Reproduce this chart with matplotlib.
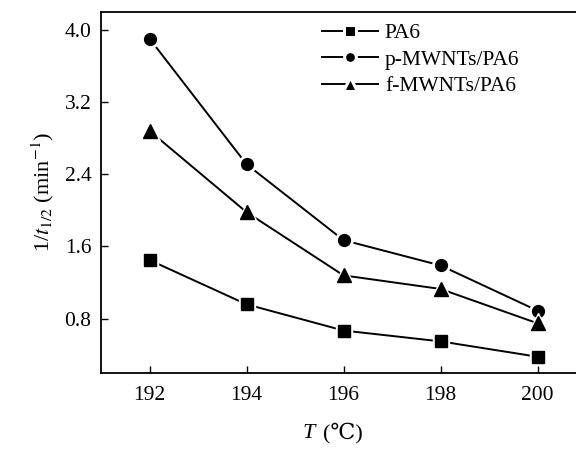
import matplotlib
matplotlib.use("Agg")
import matplotlib.pyplot as plt
from matplotlib.lines import Line2D

plt.rcParams['font.family'] = ['Liberation Serif', 'DejaVu Serif', 'DejaVu Sans']
plt.rcParams['mathtext.fontset'] = 'stix'

temps = [192, 194, 196, 198, 200]
pa6 = [1.45, 0.96, 0.67, 0.55, 0.38]
p_mwnts = [3.90, 2.51, 1.67, 1.39, 0.89]
f_mwnts = [2.88, 1.98, 1.28, 1.13, 0.75]

# name, values, marker, marker size
series = [
    ("PA6", pa6, "s", 8),
    ("p-MWNTs/PA6", p_mwnts, "o", 8.5),
    ("f-MWNTs/PA6", f_mwnts, "^", 10.5),
]

fig = plt.figure(figsize=(5.76, 4.5), dpi=100)
ax = fig.add_axes([101 / 576, 77 / 450, 485 / 576, 361.5 / 450])

handles = []
for name, vals, mk, ms in series:
    # line with white halo around the points, so the line stops short of each marker
    ax.plot(temps, vals, color="black", linewidth=1.4, marker=mk,
            markersize=ms + 4, markerfacecolor="white", markeredgecolor="white")
    ax.plot(temps, vals, linestyle="none", marker=mk, markersize=ms,
            markerfacecolor="black", markeredgecolor="black")
    handles.append(Line2D([], [], color="black", linewidth=1.4, marker=mk,
                          markersize=ms, markerfacecolor="black",
                          markeredgecolor="white", markeredgewidth=2.2, label=name))

ax.set_xlim(191, 201)
ax.set_ylim(0.2, 4.2)
ax.set_xticks(temps)
ax.set_yticks([0.8, 1.6, 2.4, 3.2, 4.0])
ax.set_yticklabels(["0.8", "1.6", "2.4", "3.2", "4.0"])
ax.tick_params(direction="in", length=5, width=1, labelsize=15.5)
ax.tick_params(axis="y", pad=7)
ax.tick_params(axis="x", pad=9)
for s in ax.spines.values():
    s.set_linewidth(1.3)

fig.text(303 / 576, 1 - 433 / 450, "T", fontsize=16, style="italic", va="center", ha="left")
fig.text(323 / 576, 1 - 433 / 450, "(\u2103)", fontsize=16, va="center", ha="left")
ax.set_ylabel(r"1/$t_{1/2}$ (min$^{-1}$)", fontsize=16, labelpad=6)

ax.legend(handles=handles, loc="upper left", bbox_to_anchor=(0.43, 1.003),
          frameon=False, fontsize=15.5, handlelength=2.6, handletextpad=0.3,
          labelspacing=0.3, borderaxespad=0.2)

fig.savefig("out.png", dpi=100)
